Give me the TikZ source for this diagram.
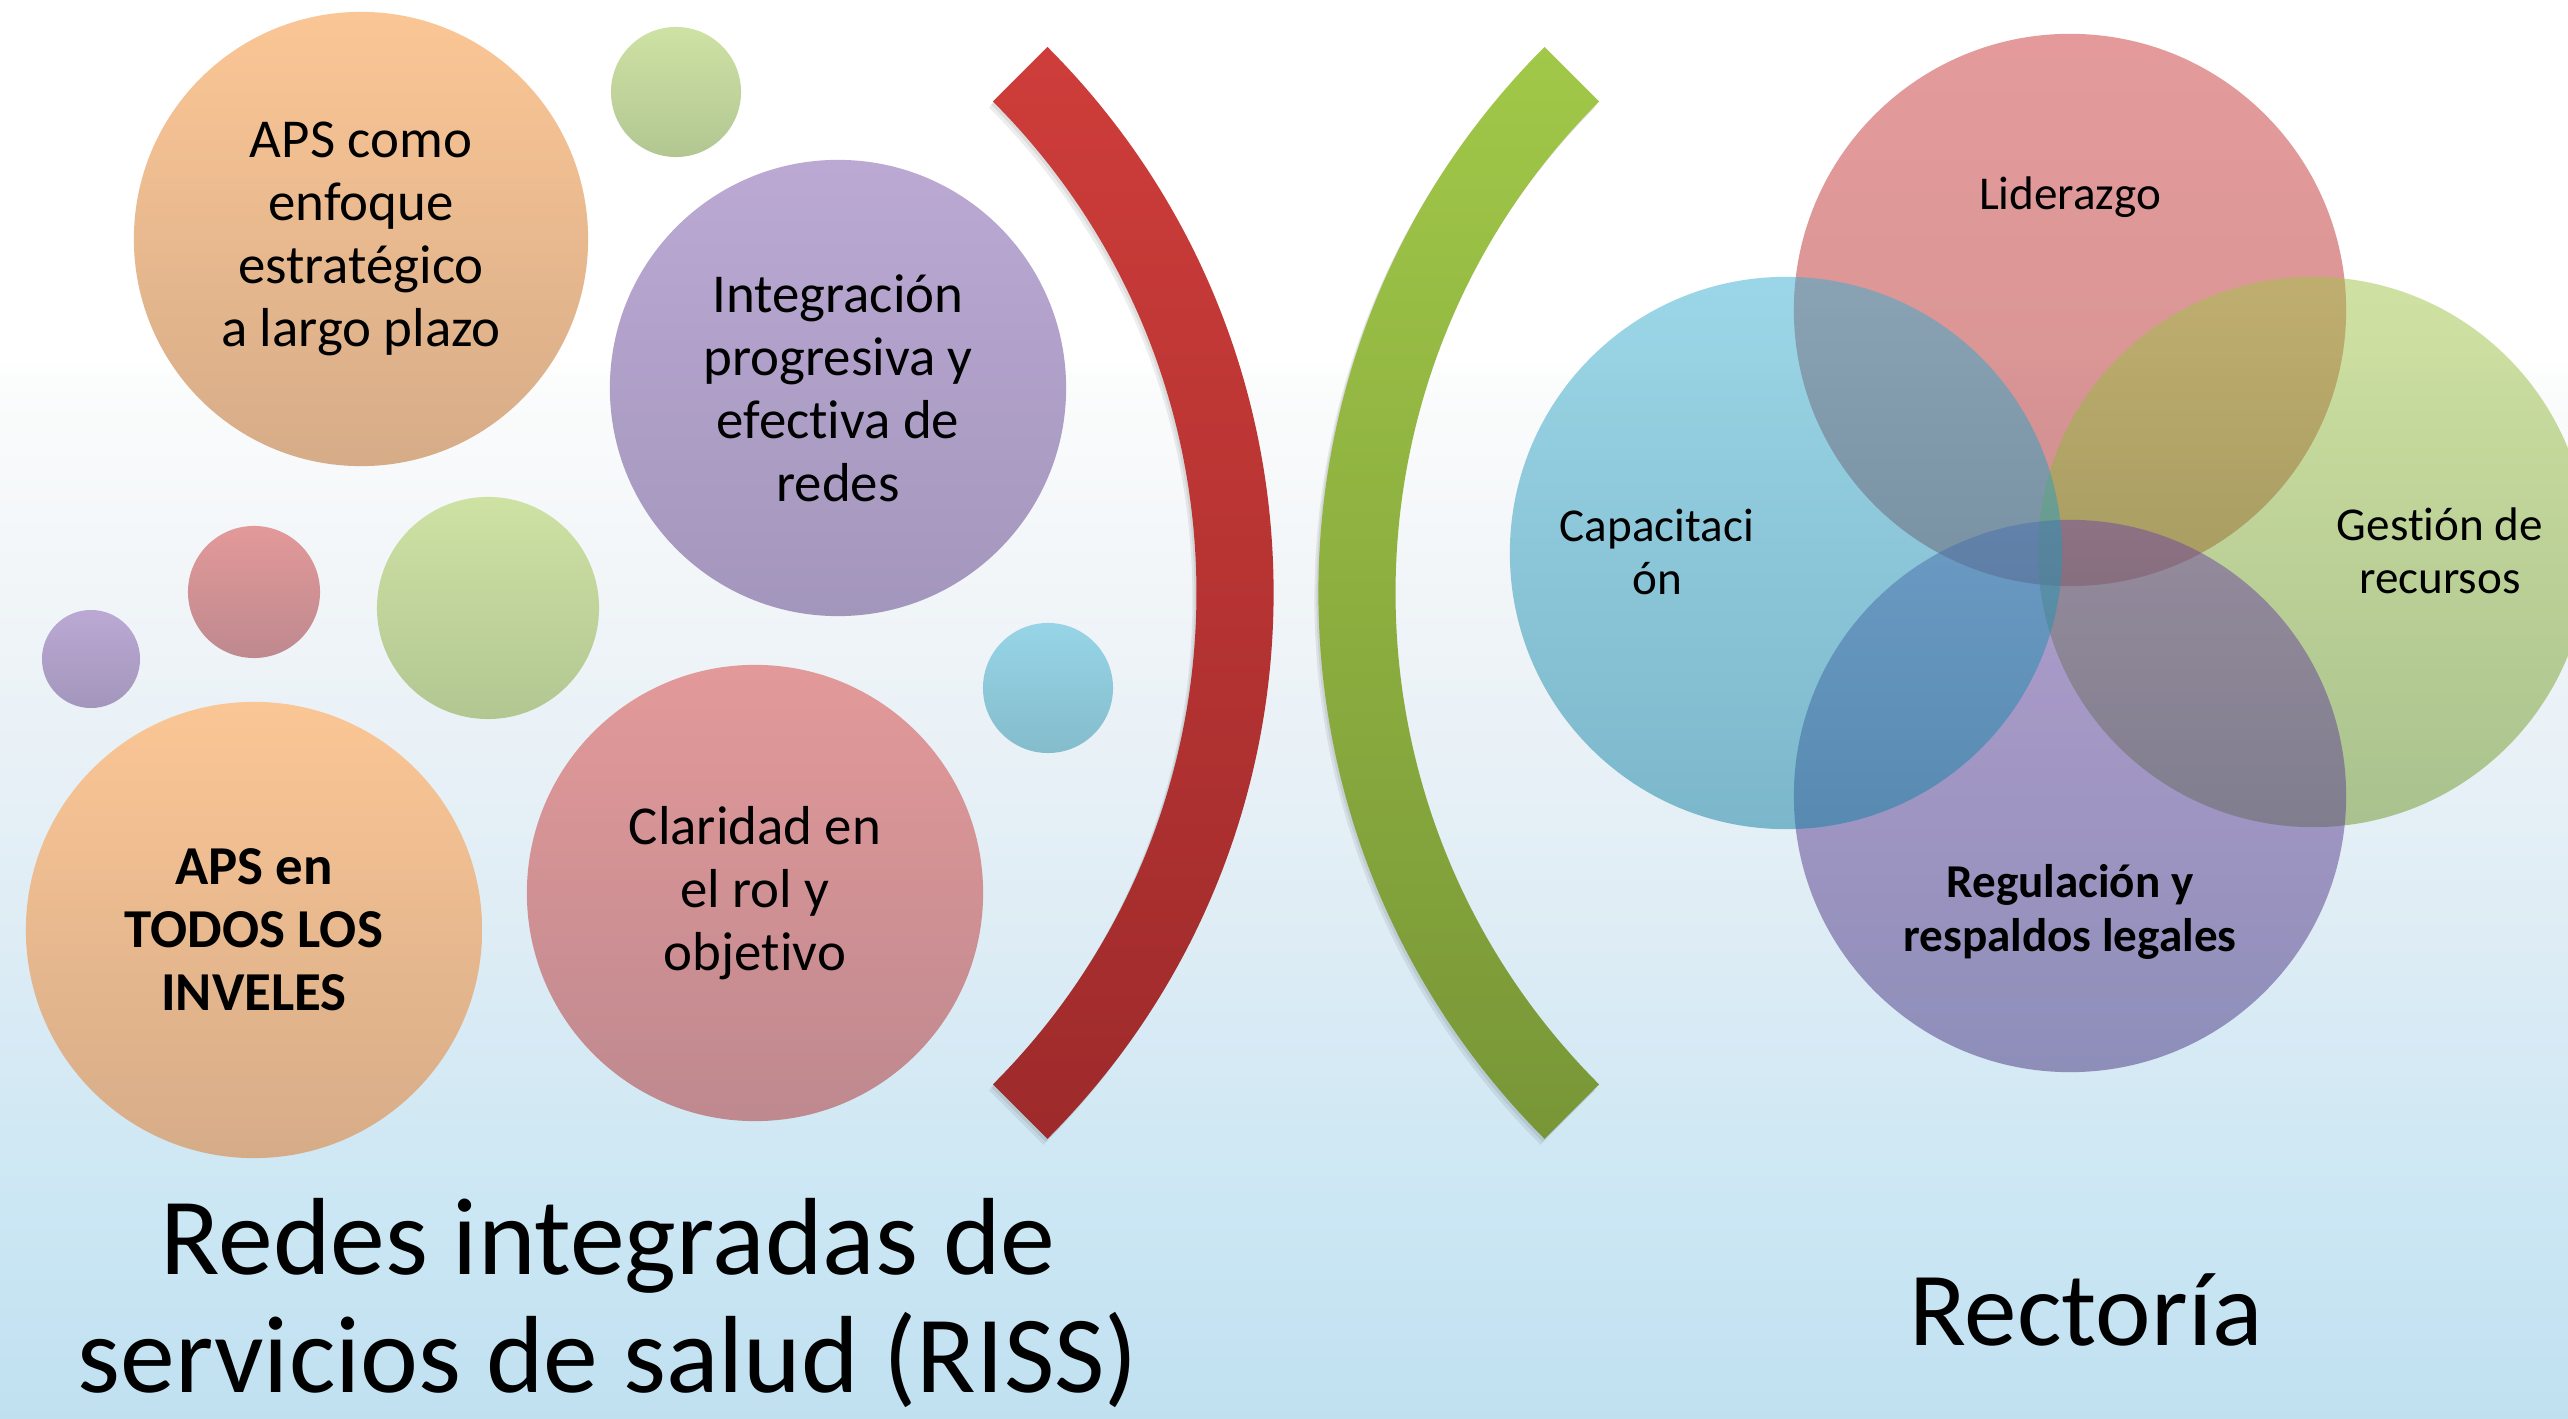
\documentclass[tikz,border=0pt]{standalone}
\usepackage{fontspec}
\setmainfont{Carlito}[Ligatures={NoCommon,NoContextual}]
\definecolor{orT}{RGB}{251,198,149}
\definecolor{orB}{RGB}{214,172,136}
\definecolor{puT}{RGB}{187,169,212}
\definecolor{puB}{RGB}{163,150,188}
\definecolor{grT}{RGB}{206,226,164}
\definecolor{grB}{RGB}{178,198,146}
\definecolor{reT}{RGB}{227,153,153}
\definecolor{reB}{RGB}{190,137,143}
\definecolor{blT}{RGB}{150,213,231}
\definecolor{blB}{RGB}{132,188,204}
\definecolor{brRT}{RGB}{206,61,58}
\definecolor{brRB}{RGB}{158,42,43}
\definecolor{brGT}{RGB}{161,200,72}
\definecolor{brGB}{RGB}{120,150,55}
\definecolor{vRT}{RGB}{203,55,55}
\definecolor{vRB}{RGB}{170,40,40}
\definecolor{vBT}{RGB}{55,175,209}
\definecolor{vBB}{RGB}{20,128,162}
\definecolor{vGT}{RGB}{161,197,71}
\definecolor{vGB}{RGB}{110,150,40}
\definecolor{vPT}{RGB}{109,69,161}
\definecolor{vPB}{RGB}{72,52,128}
\definecolor{bgA}{RGB}{192,224,240}
\definecolor{bgB}{RGB}{204,231,244}
\definecolor{bgC}{RGB}{224,237,245}
\definecolor{bgD}{RGB}{241,245,248}
\definecolor{bgE}{RGB}{251,252,252}
\pgfdeclareverticalshading{bgshade}{100bp}{color(0bp)=(bgA); color(25bp)=(bgA); color(32.7bp)=(bgB); color(43.3bp)=(bgC); color(53.9bp)=(bgD); color(61.6bp)=(bgE); color(62.3bp)=(white); color(100bp)=(white)}
\newcommand\fsL{\fontsize{15.6}{17.9}\selectfont}
\newcommand\fsV{\fontsize{13.4}{15.1}\selectfont}
\newcommand\fsT{\fontsize{31.2}{33.6}\selectfont}
\newcommand\fsR{\fontsize{29.9}{32.4}\selectfont}
\tikzset{
  bub/.style={circle, inner sep=0pt, align=center, font=\fsL, text=black},
  dot/.style={circle, inner sep=0pt},
  orangeb/.style={top color=orT, bottom color=orB},
  purpleb/.style={top color=puT, bottom color=puB},
  greenb/.style={top color=grT, bottom color=grB},
  redb/.style={top color=reT, bottom color=reB},
  blueb/.style={top color=blT, bottom color=blB},
  venn/.style={circle, inner sep=0pt, minimum size=5.52cm, fill opacity=0.5},
  vtxt/.style={align=center, font=\fsV, inner sep=0pt, text=black},
  ttl/.style={align=center, font=\fsT, inner sep=0pt, text=black},
  brshadow/.style={fill=black, fill opacity=0.07}
}
\begin{document}
\begin{tikzpicture}[x=0.01cm, y=-0.01cm]
\useasboundingbox (0,0) rectangle (2568,1419);
\clip (0,0) rectangle (2568,1419);
\shade[shading=bgshade] (0,0) rectangle (2568,1419);

% bracket shadows
\foreach \dx/\dy in {-2/3,-4/6} {
\fill[brshadow, shift={(\dx,\dy)}] (1047.5,47) arc[start angle=-45, end angle=45, radius=772] -- (992.9,1084.4) arc[start angle=45, end angle=-45, radius=695] -- cycle;
\fill[brshadow, shift={(\dx,\dy)}] (1544.5,47) arc[start angle=225, end angle=135, radius=772] -- (1599.1,1084.4) arc[start angle=135, end angle=225, radius=695] -- cycle;
}
% brackets
\shade[top color=brRT, bottom color=brRB] (1047.5,47) arc[start angle=-45, end angle=45, radius=772] -- (992.9,1084.4) arc[start angle=45, end angle=-45, radius=695] -- cycle;
\shade[top color=brGT, bottom color=brGB] (1544.5,47) arc[start angle=225, end angle=135, radius=772] -- (1599.1,1084.4) arc[start angle=135, end angle=225, radius=695] -- cycle;

% left bubbles
\node[bub, orangeb, minimum size=4.54cm] (aps) at (361,239) {APS como\\enfoque\\estratégico\\a largo plazo};
\node[bub, purpleb, minimum size=4.56cm] (integ) at (838,388) {Integración\\progresiva y\\efectiva de\\redes};
\node[bub, orangeb, minimum size=4.56cm, font=\fsL\bfseries] (apsall) at (254,930) {APS en\\TODOS LOS\\INVELES};
\node[bub, redb, minimum size=4.56cm] (clar) at (755,893) {Claridad en\\el rol y\\objetivo};
\node[dot, greenb, minimum size=1.30cm] (g1) at (676,92) {};
\node[dot, redb, minimum size=1.32cm] (r1) at (254,592) {};
\node[dot, greenb, minimum size=2.22cm] (g2) at (488,608) {};
\node[dot, purpleb, minimum size=0.98cm] (p1) at (91,659) {};
\node[dot, blueb, minimum size=1.30cm] (b1) at (1048,688) {};

% venn
\node[venn, top color=vRT, bottom color=vRB] (lid) at (2070,310) {};
\node[venn, top color=vGT, bottom color=vGB, minimum size=5.50cm] (ges) at (2313,552) {};
\node[venn, top color=vPT, bottom color=vPB] (reg) at (2070,796) {};
\node[venn, top color=vBT, bottom color=vBB] (cap) at (1786,553) {};

\node[vtxt, anchor=base] (tlid) at (2070,210) {Liderazgo};
\node[vtxt] (tcap) at (1657,552) {Capacitaci\\ón};
\node[vtxt] (tges) at (2440,551) {Gestión de\\recursos};
\node[vtxt, font=\fsV\bfseries] (treg) at (2070,912) {Regulación y\\respaldos legales};

% titles
\node[ttl] (t1) at (608,1303) {Redes integradas de\\servicios de salud (RISS)};
\node[ttl, font=\fsR, anchor=base] (t2) at (2086,1346) {Rectoría};
\end{tikzpicture}
\end{document}
